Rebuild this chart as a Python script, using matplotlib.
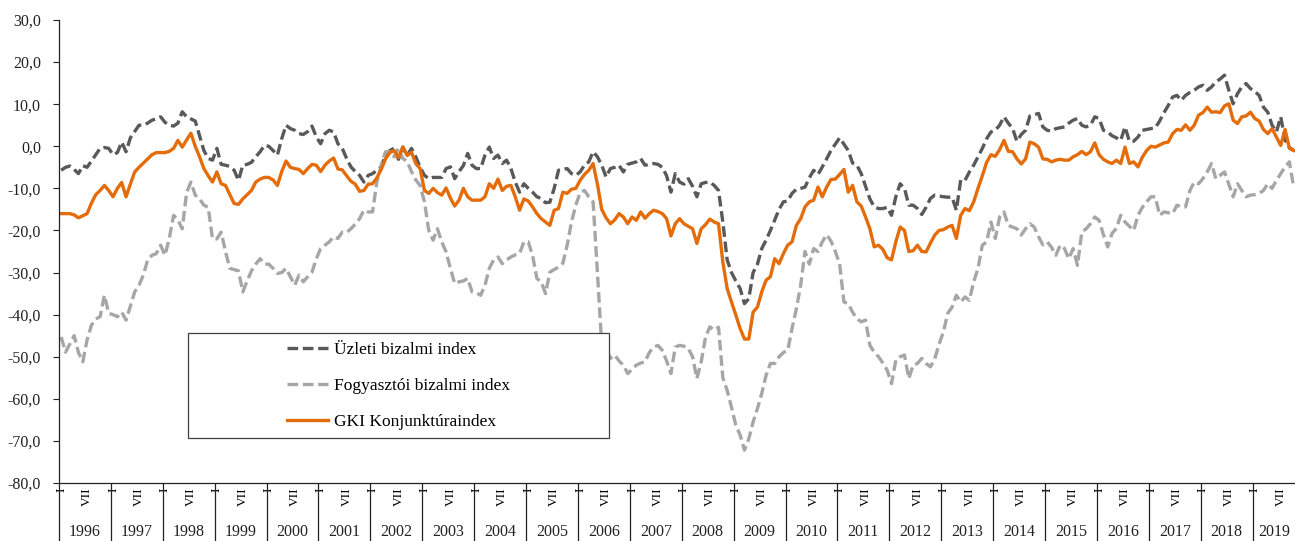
import numpy as np
import matplotlib
matplotlib.use("Agg")
import matplotlib.pyplot as plt
from matplotlib.patches import Rectangle

# -----------------------------
# Data (monthly, 1996-01 .. 2019-10)
# -----------------------------
years = list(range(1996, 2020))
month_labels = ["I", "VII"]

uzleti = [
    -5.7, -5.0, -4.7, -5.5, -6.5, -4.6, -5.0, -3.5, -2.0, -0.5, -0.3, -0.5,   # 1996
    -2.0, -1.5, 1.0, -1.3, 2.0, 3.5, 5.0, 5.0, 5.5, 6.2, 6.5, 7.0,            # 1997
    5.7, 5.0, 4.8, 5.5, 8.2, 7.0, 6.5, 6.0, 2.5, -1.0, -2.9, -3.3,            # 1998
    -0.5, -4.3, -4.5, -4.8, -5.7, -8.1, -4.5, -4.3, -3.8, -2.5, -1.3, 0.2,    # 1999
    0.0, -1.0, -2.1, 1.8, 5.0, 4.2, 3.8, 3.0, 2.8, 3.5, 4.8, 2.2,             # 2000
    0.6, 3.0, 3.8, 3.4, 0.6, -0.5, -2.9, -4.9, -6.0, -6.9, -8.5, -6.9,        # 2001
    -6.5, -5.7, -4.9, -2.1, -1.0, -0.5, -3.1, -0.2, -2.2, -0.5, -2.5, -5.0,   # 2002
    -6.9, -7.7, -7.4, -7.4, -7.4, -5.3, -4.9, -7.7, -6.0, -4.6, -1.7, -4.5,   # 2003
    -5.3, -5.3, -2.1, -0.2, -2.9, -2.1, -4.1, -3.3, -5.3, -8.5, -10.9, -8.9,  # 2004
    -10.0, -10.9, -12.0, -12.4, -13.4, -13.3, -10.0, -5.7, -5.5, -5.3, -6.5, -6.9,  # 2005
    -6.1, -4.5, -3.7, -1.3, -2.5, -4.5, -7.3, -5.3, -5.0, -4.5, -6.1, -4.3,   # 2006
    -4.0, -3.7, -2.9, -4.5, -4.3, -4.1, -4.3, -5.0, -7.0, -10.9, -6.5, -8.5,  # 2007
    -9.0, -7.7, -9.5, -12.0, -8.9, -8.6, -8.5, -9.3, -10.5, -18.0, -27.0, -30.0,  # 2008
    -32.0, -33.8, -37.4, -36.2, -30.0, -28.0, -24.3, -22.3, -20.0, -17.5, -15.0, -13.2,  # 2009
    -13.0, -11.2, -10.2, -10.0, -9.7, -7.5, -5.7, -6.7, -4.9, -3.0, -1.0, 0.5,  # 2010
    2.0, 0.5, -1.0, -4.0, -4.5, -6.5, -9.5, -12.5, -14.4, -14.8, -14.8, -14.5,  # 2011
    -16.4, -12.0, -8.9, -10.0, -14.0, -14.0, -14.8, -16.2, -14.5, -12.4, -11.6, -11.8,  # 2012
    -12.0, -12.1, -12.1, -15.2, -8.0, -8.1, -6.1, -4.5, -2.5, -0.5, 1.8, 3.4,  # 2013
    3.8, 5.0, 7.0, 5.5, 4.2, 1.2, 2.8, 3.8, 7.2, 7.5, 7.8, 4.6,               # 2014
    3.8, 3.6, 4.2, 4.4, 4.6, 5.5, 6.2, 6.6, 5.0, 4.6, 5.0, 7.0,               # 2015
    6.6, 3.8, 3.4, 2.5, 2.0, 1.4, 4.6, 1.2, 1.2, 2.2, 3.8, 4.0,               # 2016
    4.2, 4.4, 6.0, 8.0, 9.7, 11.7, 12.1, 10.9, 12.1, 12.8, 13.3, 14.1,        # 2017
    14.5, 13.3, 14.1, 15.3, 16.0, 16.9, 13.3, 10.1, 12.5, 14.1, 14.9, 13.7,   # 2018
    13.0, 12.1, 9.3, 8.1, 5.0, 3.4, 7.0, 1.5, -0.3, -1.0,                     # 2019
]

fogyasztoi = [
    -45.3, -48.9, -47.0, -45.0, -49.0, -51.2, -46.0, -42.5, -41.0, -40.5, -35.4, -39.7,  # 1996
    -40.0, -40.5, -39.4, -41.3, -38.0, -34.6, -33.0, -30.6, -27.0, -25.9, -25.5, -23.5,  # 1997
    -25.9, -21.9, -16.4, -17.5, -19.6, -11.0, -8.5, -11.6, -12.5, -14.0, -14.5, -22.0,   # 1998
    -22.0, -20.4, -25.0, -29.0, -29.3, -29.6, -34.6, -32.0, -29.6, -28.0, -26.7, -28.0,  # 1999
    -28.0, -29.0, -30.2, -30.0, -29.0, -31.0, -33.0, -30.6, -32.2, -31.0, -29.9, -26.7,  # 2000
    -24.3, -23.5, -22.7, -21.5, -21.9, -20.4, -20.5, -19.6, -18.5, -17.2, -15.2, -15.6,  # 2001
    -15.6, -8.5, -4.5, -1.3, -1.3, -2.5, -0.5, -2.9, -3.6, -6.0, -8.0, -9.3,             # 2002
    -13.2, -20.0, -22.3, -19.6, -22.7, -25.1, -29.0, -32.6, -32.2, -32.0, -31.4, -34.6,  # 2003
    -34.8, -35.4, -33.0, -29.0, -27.0, -26.3, -27.9, -27.0, -26.3, -25.8, -25.5, -22.7,  # 2004
    -22.7, -25.9, -31.4, -32.2, -35.0, -29.9, -29.3, -28.7, -27.8, -23.5, -18.0, -14.0,  # 2005
    -11.0, -10.5, -12.0, -13.2, -30.0, -47.3, -48.0, -50.4, -49.6, -51.0, -52.0, -54.0,  # 2006
    -53.0, -52.0, -51.5, -51.2, -49.0, -47.7, -47.3, -48.5, -51.0, -54.0, -47.7, -47.3,  # 2007
    -47.5, -48.0, -50.0, -55.2, -51.2, -45.3, -42.9, -43.7, -43.0, -55.0, -58.0, -62.0,  # 2008
    -66.3, -68.6, -72.2, -69.5, -65.5, -62.3, -58.7, -54.4, -51.6, -51.6, -50.0, -49.0,  # 2009
    -48.5, -43.3, -38.6, -33.0, -25.0, -28.0, -24.3, -25.0, -22.7, -21.0, -22.5, -25.0,  # 2010
    -27.9, -37.0, -37.4, -39.4, -41.0, -41.7, -41.3, -47.3, -48.9, -50.0, -51.5, -53.2,  # 2011
    -56.4, -50.8, -50.0, -49.6, -55.2, -52.0, -51.6, -50.4, -51.6, -52.4, -50.5, -47.0,  # 2012
    -44.1, -39.7, -38.2, -35.4, -37.0, -35.8, -36.6, -32.2, -29.0, -23.5, -22.7, -18.0,  # 2013
    -21.9, -16.8, -15.6, -18.8, -19.2, -19.6, -21.1, -19.6, -18.4, -19.2, -21.5, -23.4,  # 2014
    -22.7, -24.0, -25.9, -23.5, -24.3, -26.7, -24.3, -28.3, -20.4, -19.6, -18.4, -16.8,  # 2015
    -17.6, -21.0, -23.9, -20.7, -19.5, -16.4, -18.0, -19.0, -20.0, -16.4, -14.5, -13.2,  # 2016
    -12.0, -12.0, -16.4, -15.6, -15.8, -16.0, -14.0, -14.4, -14.4, -10.5, -8.5, -8.9,    # 2017
    -7.7, -6.1, -4.1, -7.7, -6.9, -6.1, -9.0, -12.0, -8.9, -10.5, -12.0, -11.6,          # 2018
    -11.5, -11.2, -10.5, -8.9, -10.0, -8.1, -6.5, -4.9, -3.7, -9.7,                      # 2019
]

gki = [
    -16.0, -16.0, -16.0, -16.3, -17.0, -16.5, -16.0, -13.5, -11.5, -10.5, -9.3, -10.5,   # 1996
    -12.0, -10.0, -8.6, -12.0, -9.0, -6.1, -5.0, -4.0, -3.0, -2.0, -1.5, -1.5,           # 1997
    -1.5, -1.2, -0.5, 1.4, -0.2, 1.5, 3.1, 0.0, -2.5, -5.3, -7.0, -8.5,                  # 1998
    -6.1, -8.9, -9.3, -11.5, -13.6, -13.8, -12.5, -11.5, -10.5, -8.5, -7.8, -7.4,        # 1999
    -7.4, -8.0, -9.3, -6.0, -3.5, -5.0, -5.3, -5.5, -6.5, -5.3, -4.3, -4.5,              # 2000
    -6.0, -4.5, -3.5, -2.8, -5.4, -5.6, -7.0, -8.3, -9.0, -10.7, -10.5, -9.0,            # 2001
    -8.9, -7.5, -5.5, -3.0, -1.5, -1.0, -2.7, -0.2, -2.2, -1.4, -4.1, -5.3,              # 2002
    -10.5, -11.2, -10.0, -11.0, -11.6, -9.9, -12.3, -14.2, -12.8, -10.0, -12.0, -12.8,   # 2003
    -12.8, -12.8, -12.0, -8.9, -10.0, -7.8, -10.5, -9.5, -9.3, -12.0, -15.2, -12.5,      # 2004
    -13.0, -14.4, -16.0, -17.2, -18.0, -18.8, -15.2, -14.8, -10.9, -11.2, -10.2, -10.0,  # 2005
    -8.1, -6.7, -5.7, -4.1, -9.0, -15.0, -17.0, -18.4, -17.5, -16.0, -16.8, -18.4,       # 2006
    -16.8, -17.6, -15.6, -17.1, -16.0, -15.2, -15.5, -16.0, -17.2, -21.3, -18.4, -17.2,  # 2007
    -18.4, -19.0, -19.6, -23.1, -19.6, -18.6, -17.3, -18.0, -18.4, -27.5, -33.8, -37.0,  # 2008
    -40.1, -43.3, -45.8, -45.8, -39.4, -38.2, -34.6, -31.8, -31.0, -26.7, -27.9, -25.5,  # 2009
    -23.5, -22.7, -18.8, -17.2, -14.4, -13.2, -12.8, -9.7, -12.0, -9.7, -7.9, -7.8,      # 2010
    -6.7, -5.5, -10.9, -9.3, -13.2, -14.2, -16.8, -19.6, -23.9, -23.5, -24.5, -26.5,     # 2011
    -27.0, -22.7, -19.2, -20.0, -25.0, -24.8, -23.5, -25.0, -25.1, -23.0, -21.1, -20.0,  # 2012
    -19.8, -19.2, -18.8, -21.9, -16.4, -14.8, -15.3, -13.2, -10.0, -7.0, -3.8, -2.0,     # 2013
    -2.4, -0.8, 1.4, -1.2, -1.3, -3.0, -4.2, -3.0, 1.0, 0.6, -0.2, -3.0,                 # 2014
    -3.1, -3.7, -3.3, -3.1, -3.3, -3.3, -2.5, -2.0, -1.2, -2.0, -1.3, 0.8,               # 2015
    -2.0, -3.1, -3.7, -4.1, -3.3, -4.1, -0.2, -4.1, -3.7, -4.9, -2.6, -1.0,              # 2016
    0.0, -0.2, 0.3, 0.8, 1.0, 3.0, 4.0, 3.8, 5.1, 3.8, 5.0, 7.4,                         # 2017
    8.0, 9.3, 8.1, 8.2, 8.0, 9.6, 10.1, 6.2, 5.4, 7.0, 7.2, 8.1,                         # 2018
    6.6, 6.0, 4.0, 3.0, 4.2, 2.2, 0.2, 4.0, -0.5, -1.0,                                  # 2019
]

n = len(gki)
x = np.arange(n)

# -----------------------------
# Figure
# -----------------------------
plt.rcParams["font.family"] = ["Liberation Serif", "DejaVu Serif"]

fig = plt.figure(figsize=(12.95, 5.41), dpi=100)
ax = fig.add_axes([59 / 1295, 1 - 483 / 541, 1 - 59 / 1295, 463 / 541])

ax.plot(x, uzleti, color="#595959", lw=2.4, dashes=(3.2, 1.4),
        label="Üzleti bizalmi index")
ax.plot(x, fogyasztoi, color="#a6a6a6", lw=2.4, dashes=(3.2, 1.4),
        label="Fogyasztói bizalmi index")
ax.plot(x, gki, color="#e46c0a", lw=2.4, label="GKI Konjunktúraindex")

ax.set_xlim(-0.5, n - 0.7)
ax.set_ylim(-80, 30)

# y axis
ax.set_yticks(np.arange(-80, 31, 10))
ax.set_yticklabels([f"{v:.1f}".replace(".", ",") for v in np.arange(-80, 31, 10)])
ax.tick_params(axis="y", direction="out", length=4, width=0.8, pad=9,
               labelsize=11.5, colors="#222222")

# x axis: months (I / VII) + year boxes
mpos = np.arange(0, n, 6)
ax.set_xticks(mpos)
ax.set_xticklabels([month_labels[(p // 6) % 2] for p in mpos], rotation=90,
                   fontsize=9.5)
ax.tick_params(axis="x", which="major", length=0, pad=3)
ax.set_xticks(np.arange(-0.5, n, 12), minor=True)
ax.tick_params(axis="x", which="minor", direction="out", length=44, width=0.9,
               color="#222222")

for i, yr in enumerate(years):
    first = i * 12
    last = min(first + 11, n - 1)
    ax.text((first + last) / 2, -0.106, str(yr), transform=ax.get_xaxis_transform(),
            ha="center", va="center", fontsize=11.5, color="#222222")

for s in ["top", "right"]:
    ax.spines[s].set_visible(False)
for s in ["left", "bottom"]:
    ax.spines[s].set_color("#222222")
    ax.spines[s].set_linewidth(0.9)

# legend with a wide box
box = Rectangle((188 / 1295, 1 - 438 / 541), (609 - 188) / 1295, (438 - 333) / 541,
                transform=fig.transFigure, facecolor="white", edgecolor="#404040",
                lw=0.9, zorder=5)
fig.patches.append(box)
leg = fig.legend(loc="center", bbox_to_anchor=((188 + 609) / 2 / 1295, 1 - 386 / 541),
                 frameon=False, fontsize=12.5, handlelength=2.4, handletextpad=0.35,
                 labelspacing=1.15)
leg.set_zorder(6)

fig.savefig("out.png", dpi=100)
